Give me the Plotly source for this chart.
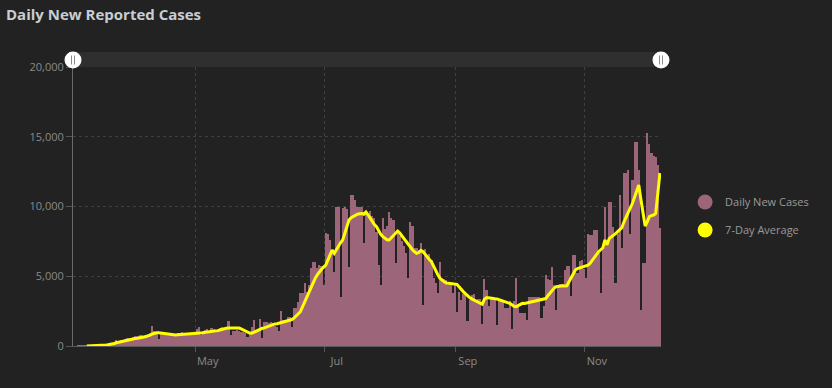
import pandas as pd
import plotly.graph_objects as go

# ---- daily new reported cases (Mar 4 2020 -> Dec 6 2020) ----
cases_mar = [0, 0, 1, 2, 3, 2, 5, 8, 12, 18, 25, 35, 45, 60,
             80, 100, 130, 160, 210, 280, 430, 320, 420, 380, 480, 540, 560, 520]
cases_apr = [650, 700, 720, 780, 760, 640, 760, 820, 900, 1430, 1040, 960, 480, 890,
             850, 800, 780, 820, 760, 720, 880, 900, 960, 1030, 900, 860, 820, 880, 900, 950]
cases_may = [1190, 1340, 780, 1100, 1150, 1200, 1000, 1280, 1250, 1000, 1100, 1300, 1350, 1300,
             1200, 1820, 790, 1050, 1100, 1150, 1100, 1000, 1030, 950, 620, 1000, 1390, 1860,
             1030, 1200, 1910]
cases_jun = [550, 1700, 1750, 1650, 1700, 1650, 1400, 1390, 1100, 2530, 1850, 1900, 2050, 2100,
             1340, 2700, 2700, 3180, 3780, 3780, 4490, 3900, 4400, 5570, 6050, 6050, 5570, 5800,
             5700, 4370]
cases_jul = [8080, 8000, 7600, 6800, 5330, 10000, 10000, 3540, 9900, 9950, 9800, 5690, 10800, 10830,
             10500, 9990, 9990, 9990, 7360, 9630, 9400, 9700, 9300, 9150, 8200, 5800, 4370, 9150,
             8420, 8600, 9630]
cases_aug = [9150, 9000, 5930, 8200, 7900, 7500, 7200, 6650, 4850, 8910, 8600, 7000, 7000, 6900,
             7350, 2940, 6950, 6400, 6600, 6200, 4850, 4500, 3800, 6050, 4900, 4800, 4700, 4400,
             4600, 3770, 4500]
cases_sep = [2460, 3900, 3300, 3700, 3700, 1800, 3300, 3650, 3700, 3300, 3350, 3350, 1600, 4780,
             4000, 2900, 3400, 3400, 3300, 1500, 3300, 3300, 3300, 2750, 2750, 3250, 1200, 3250,
             4900, 2800]
cases_oct = [2400, 2400, 2400, 1900, 3500, 3500, 3500, 3500, 3500, 3500, 2000, 2900, 5090, 4800,
             4730, 5690, 4370, 2580, 4250, 4450, 4450, 5450, 5700, 5700, 3600, 6550, 6550, 5250,
             6100, 6200, 5550]
cases_nov = [4850, 8000, 7960, 7960, 8320, 8320, 6640, 3780, 7200, 10000, 7500, 10300, 10300, 8500,
             4500, 8000, 10830, 7000, 12380, 12380, 12620, 8000, 11900, 14650, 14650, 12600, 2580, 5930,
             5930, 15250]
cases_dec = [14500, 13800, 13600, 13580, 12980, 8440]

# ---- 7-day average (Mar 10 2020 -> Dec 6 2020) ----
avg_mar = [3, 5, 10, 15, 22, 30, 40, 50, 60, 70, 90, 110, 140, 180, 230, 270, 310, 350, 380, 410, 450, 480]
avg_apr = [510, 540, 560, 570, 600, 640, 680, 720, 780, 860, 930, 950, 950, 930, 900, 870, 830, 800,
           790, 790, 790, 800, 810, 820, 830, 830, 840, 850, 860, 870]
avg_may = [880, 900, 920, 950, 980, 1000, 1010, 1020, 1030, 1060, 1100, 1150, 1200, 1240, 1270, 1290,
           1290, 1285, 1290, 1295, 1290, 1230, 1150, 1060, 980, 930, 910, 980, 1080, 1180, 1240]
avg_jun = [1270, 1300, 1360, 1420, 1480, 1540, 1580, 1600, 1640, 1690, 1740, 1790, 1830, 1860, 1900,
           2000, 2150, 2300, 2460, 2800, 3150, 3540, 3900, 4250, 4610, 4850, 5100, 5330, 5500, 5650]
avg_jul = [5800, 6150, 6500, 6880, 6640, 6900, 7200, 7400, 7600, 8100, 8600, 9030, 9200, 9300, 9390,
           9450, 9480, 9500, 9450, 9600, 9400, 9150, 8900, 8700, 8550, 8250, 8000, 7840, 7700, 7620, 7600]
avg_aug = [7750, 7950, 8100, 8240, 8100, 7900, 7650, 7450, 7240, 7050, 6900, 6750, 6640, 6700, 6850,
           6760, 6550, 6350, 6200, 6040, 5700, 5400, 5100, 4850, 4700, 4600, 4520, 4490, 4480, 4460, 4440]
avg_sep = [4420, 4250, 4050, 3900, 3750, 3600, 3480, 3380, 3300, 3200, 3100, 3030, 2990, 3350, 3460,
           3460, 3420, 3400, 3380, 3370, 3320, 3270, 3220, 3180, 3130, 3050, 2950, 2850, 2820, 2900]
avg_oct = [3000, 3060, 3050, 3080, 3120, 3160, 3200, 3230, 3260, 3290, 3330, 3360, 3400, 3600, 3800,
           4000, 4150, 4250, 4280, 4300, 4320, 4310, 4320, 4600, 4900, 5200, 5450, 5550, 5600, 5650, 5700]
avg_nov = [5730, 5800, 5930, 6150, 6400, 6600, 6760, 6900, 7040, 7600, 7250, 7700, 7800, 7950, 8050,
           8200, 8350, 8480, 8900, 9270, 9600, 9900, 10230, 10650, 11100, 11540, 10500, 9400, 8600, 8900]
avg_dec = [9270, 9350, 9390, 9500, 11000, 12400]

month_ticks = ["2020-05-01", "2020-07-01", "2020-09-01", "2020-11-01"]
month_labels = ["May", "Jul", "Sep", "Nov"]
y_ticks = [0, 5000, 10000, 15000, 20000]

cases = (cases_mar + cases_apr + cases_may + cases_jun + cases_jul + cases_aug +
         cases_sep + cases_oct + cases_nov + cases_dec)
avg = (avg_mar + avg_apr + avg_may + avg_jun + avg_jul + avg_aug +
       avg_sep + avg_oct + avg_nov + avg_dec)
case_dates = pd.date_range("2020-03-04", periods=len(cases), freq="D")
avg_dates = pd.date_range("2020-03-10", periods=len(avg), freq="D")

BG = "#222222"
BAR = "#9d6579"
YEL = "#ffff00"
TXT = "#8a8a8a"
GRID = "#404040"
DAY = 86400000

fig = go.Figure()
fig.add_trace(go.Bar(x=case_dates, y=cases, name="Daily New Cases", marker_color=BAR,
                     marker_line_width=0, xperiod=DAY, xperiodalignment="middle",
                     showlegend=False))
fig.add_trace(go.Scatter(x=avg_dates, y=avg, name="7-Day Average", mode="lines",
                         line=dict(color=YEL, width=3), xperiod=DAY, xperiodalignment="middle",
                         showlegend=False))
# legend entries with round swatches
fig.add_trace(go.Scatter(x=[None], y=[None], mode="markers", name="Daily New Cases",
                         marker=dict(size=15, color=BAR), legendgroup="a"))
fig.add_trace(go.Scatter(x=[None], y=[None], mode="markers", name="7-Day Average",
                         marker=dict(size=15, color=YEL), legendgroup="b"))

shapes = [
    # scrollbar track above the plot
    dict(type="rect", xref="paper", yref="paper", x0=0, x1=1, ysizemode="pixel", yanchor=1,
         y0=0, y1=15, fillcolor="#2f2f2f", line_width=0, layer="below"),
]
for xa in (0, 1):
    shapes.append(dict(type="circle", xref="paper", yref="paper", xsizemode="pixel",
                       ysizemode="pixel", xanchor=xa, yanchor=1, x0=-8.5, x1=8.5,
                       y0=-1.5, y1=15.5, fillcolor="#ffffff", line_width=0))
    for dx in (-1.5, 1.5):
        shapes.append(dict(type="line", xref="paper", yref="paper", xsizemode="pixel",
                           ysizemode="pixel", xanchor=xa, yanchor=1, x0=dx, x1=dx,
                           y0=2.5, y1=11.5, line=dict(color="#8c8c8c", width=1)))

fig.update_layout(
    width=832, height=388,
    paper_bgcolor=BG, plot_bgcolor=BG,
    margin=dict(l=73, r=171, t=67, b=42),
    font=dict(family="Open Sans", size=11, color=TXT),
    title=dict(text="Daily New Reported Cases", x=6 / 832, xanchor="left", xref="container",
               y=1 - 15 / 388, yanchor="middle", yref="container",
               font=dict(family="Open Sans", size=15, color="#c8cdd2", weight="bold")),
    bargap=0,
    showlegend=True,
    legend=dict(x=1.041, xanchor="left", y=0.466, yanchor="middle", bgcolor="rgba(0,0,0,0)",
                font=dict(size=11, color="#9a9a9a"), traceorder="grouped", tracegroupgap=9),
    shapes=shapes,
    xaxis=dict(type="date", range=["2020-03-04", "2020-12-07"], tickmode="array",
               tickvals=month_ticks, ticktext=month_labels, ticks="outside", ticklen=5,
               tickcolor="#555555", showgrid=True, gridcolor=GRID, griddash="3px,3px",
               showline=True, linecolor="#5a5a5a", zeroline=False, ticklabelshift=12,
               tickfont=dict(size=11, color=TXT)),
    yaxis=dict(range=[0, 20000], tickmode="array", tickvals=y_ticks, tickformat=",",
               ticks="outside", ticklen=6, tickcolor="#555555", showgrid=True, gridcolor=GRID,
               griddash="3px,3px", showline=True, linecolor="#6a6a6a", zeroline=False,
               tickfont=dict(size=11, color=TXT)),
)

fig.write_html("out.html", config={"displayModeBar": False},
               post_script="document.body.style.margin='0px';")
